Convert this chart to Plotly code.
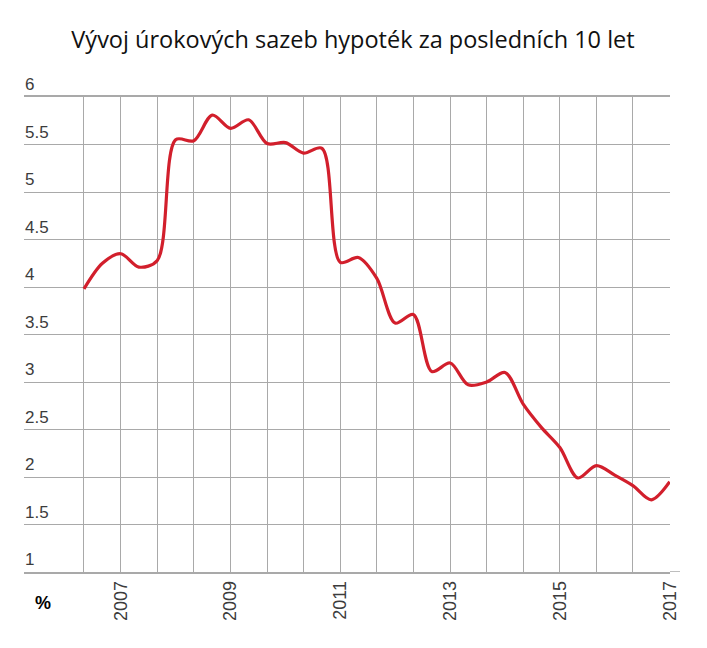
import plotly.graph_objects as go

dates = [
    "2006-05-01", "2006-09-01", "2007-01-01", "2007-05-01", "2007-09-01",
    "2008-01-01", "2008-05-01", "2008-09-01", "2009-01-01", "2009-05-01",
    "2009-09-01", "2010-01-01", "2010-05-01", "2010-09-01", "2011-01-01",
    "2011-05-01", "2011-09-01", "2012-01-01", "2012-05-01", "2012-09-01",
    "2013-01-01", "2013-05-01", "2013-09-01", "2014-01-01", "2014-05-01",
    "2014-09-01", "2015-01-01", "2015-05-01", "2015-09-01", "2016-01-01",
    "2016-05-01", "2016-09-01", "2017-01-01",
]
rates = [
    3.98, 4.25, 4.35, 4.21, 4.28,
    5.55, 5.54, 5.81, 5.67, 5.76,
    5.51, 5.52, 5.41, 5.46, 4.26,
    4.31, 4.09, 3.62, 3.71, 3.11,
    3.20, 2.97, 3.00, 3.10, 2.77,
    2.52, 2.31, 1.99, 2.12, 2.02,
    1.91, 1.76, 1.95,
]
grid_dates = [
    "2006-05-01", "2007-01-01", "2007-09-01", "2008-05-01", "2009-01-01",
    "2009-09-01", "2010-05-01", "2011-01-01", "2011-09-01", "2012-05-01",
    "2013-01-01", "2013-09-01", "2014-05-01", "2015-01-01", "2015-09-01",
    "2016-05-01", "2017-01-01",
]
grid_labels = [
    "", "2007", "", "", "2009", "", "", "2011", "", "",
    "2013", "", "", "2015", "", "", "2017",
]
y_ticks = [1, 1.5, 2, 2.5, 3, 3.5, 4, 4.5, 5, 5.5, 6]
y_labels = ["1", "1.5", "2", "2.5", "3", "3.5", "4", "4.5", "5", "5.5", "6"]

title_text = "Vývoj úrokových sazeb hypoték za posledních 10 let"
unit_text = "<b>%</b>"

GRID = "#a9a9a9"
W, H = 699, 640
L, R, T, B = 16, 37, 89, 76
PW, PH = W - L - R, H - T - B

fig = go.Figure()
fig.add_trace(go.Scatter(
    x=dates, y=rates, mode="lines",
    line=dict(color="#d21f2c", width=3.2, shape="spline", smoothing=0.9),
    hoverinfo="x+y", showlegend=False,
))

annotations = [
    dict(
        text=lab, xref="paper", yref="y", x=0, y=val,
        xanchor="left", yanchor="bottom", showarrow=False,
        xshift=-1, yshift=1,
        font=dict(family="Liberation Sans, Arial, sans-serif", size=17, color="#3c3c3c"),
    )
    for val, lab in zip(y_ticks, y_labels)
]
annotations.append(dict(
    text=unit_text, xref="paper", yref="paper",
    x=(35 - L) / PW, y=-(595 - (T + PH)) / PH,
    xanchor="center", yanchor="middle", showarrow=False,
    font=dict(family="Liberation Sans, Arial, sans-serif", size=18, color="#000000"),
))

fig.update_layout(
    width=W, height=H,
    margin=dict(l=L, r=R, t=T, b=B),
    paper_bgcolor="white", plot_bgcolor="white",
    font=dict(family="Liberation Sans, Arial, sans-serif", color="#444444"),
    title=dict(
        text=title_text, x=345 / W, xanchor="center", y=1 - 32 / H, yanchor="middle",
        font=dict(family="Open Sans", size=23.5, color="#111111"),
    ),
    xaxis=dict(
        type="date",
        range=["2005-03-28", "2017-01-03"],
        tickvals=grid_dates, ticktext=grid_labels,
        tickangle=-90, tickfont=dict(size=18, color="#3c3c3c"),
        showgrid=True, gridcolor=GRID, gridwidth=1.2,
        showline=True, linecolor=GRID, linewidth=1.5, mirror=True,
        ticks="", zeroline=False, fixedrange=True,
    ),
    yaxis=dict(
        range=[1, 6],
        tickvals=y_ticks, showticklabels=False,
        showgrid=True, gridcolor=GRID, gridwidth=1.2,
        showline=False, ticks="", zeroline=False, fixedrange=True,
    ),
    shapes=[dict(
        type="line", xref="paper", yref="y",
        x0=1, x1=1 + 10 / PW, y0=1, y1=1,
        line=dict(color=GRID, width=1.5),
    )],
    annotations=annotations,
)

fig.write_html("out.html")
